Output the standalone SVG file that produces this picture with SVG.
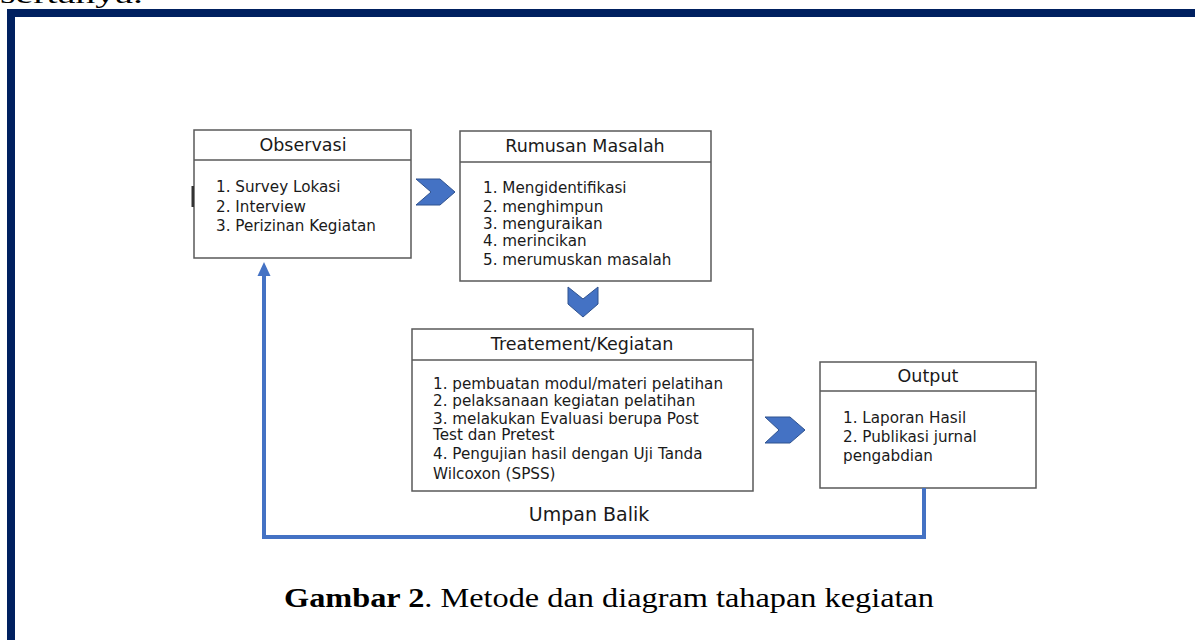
<svg xmlns="http://www.w3.org/2000/svg" width="1195" height="640" viewBox="0 0 1195 640">
<style>
.box{fill:#fff;stroke:#595959;stroke-width:1.5}
.hdr{stroke:#595959;stroke-width:1.5}
.t{font-family:"DejaVu Sans",Verdana,sans-serif;font-size:15.2px;fill:#1a1a1a}
.title{font-family:"DejaVu Sans",Verdana,sans-serif;font-size:17.5px;fill:#1a1a1a;text-anchor:middle}
.chev{fill:#4472C4;stroke:#2F528F;stroke-width:1}
.fb{fill:none;stroke:#4472C4;stroke-width:4}
</style>
<rect width="1195" height="640" fill="#fff"/>
<text x="0" y="3" font-family="Liberation Serif,serif" font-size="26" fill="#000" textLength="143" lengthAdjust="spacingAndGlyphs">sertanya.</text>
<g id="frame">
<rect x="7" y="9" width="1188" height="8" fill="#002060"/>
<rect x="7" y="9" width="8" height="631" fill="#002060"/>
</g>
<g id="observasi">
<rect class="box" x="194" y="130" width="217" height="128"/>
<line class="hdr" x1="194" y1="160" x2="411" y2="160"/>
<rect x="191.5" y="186" width="2.5" height="21" fill="#333"/>
<text class="title" x="303" y="151">Observasi</text>
<text class="t" x="216" y="192">1. Survey Lokasi</text>
<text class="t" x="216" y="212">2. Interview</text>
<text class="t" x="216" y="231">3. Perizinan Kegiatan</text>
</g>
<g id="rumusan">
<rect class="box" x="460" y="131" width="251" height="150"/>
<line class="hdr" x1="460" y1="162" x2="711" y2="162"/>
<text class="title" x="585" y="152">Rumusan Masalah</text>
<text class="t" x="483" y="193">1. Mengidentifikasi</text>
<text class="t" x="483" y="212">2. menghimpun</text>
<text class="t" x="483" y="229">3. menguraikan</text>
<text class="t" x="483" y="246">4. merincikan</text>
<text class="t" x="483" y="265">5. merumuskan masalah</text>
</g>
<g id="treatement">
<rect class="box" x="412" y="329" width="341" height="162"/>
<line class="hdr" x1="412" y1="360" x2="753" y2="360"/>
<text class="title" x="582" y="350">Treatement/Kegiatan</text>
<text class="t" x="433" y="389">1. pembuatan modul/materi pelatihan</text>
<text class="t" x="433" y="406">2. pelaksanaan kegiatan pelatihan</text>
<text class="t" x="433" y="424">3. melakukan Evaluasi berupa Post</text>
<text class="t" x="433" y="440">Test dan Pretest</text>
<text class="t" x="433" y="459">4. Pengujian hasil dengan Uji Tanda</text>
<text class="t" x="433" y="479">Wilcoxon (SPSS)</text>
</g>
<g id="output">
<rect class="box" x="820" y="362" width="216" height="126"/>
<line class="hdr" x1="820" y1="391" x2="1036" y2="391"/>
<text class="title" x="928" y="382">Output</text>
<text class="t" x="843" y="423">1. Laporan Hasil</text>
<text class="t" x="843" y="442">2. Publikasi jurnal</text>
<text class="t" x="843" y="461">pengabdian</text>
</g>
<g id="connectors">
<polygon class="chev" points="416,179 440,179 455,192 440,205 416,205 431,192"/>
<polygon class="chev" points="568,287 583,299 598,287 598,304 583,317 568,304"/>
<polygon class="chev" points="765,417 790,417 805,430 790,443 765,443 779,430"/>
<polyline class="fb" points="924,488 924,537 264,537 264,274"/>
<polygon points="264,262 257.5,276 270.5,276" fill="#4472C4"/>
<text x="589" y="521" text-anchor="middle" font-family="DejaVu Sans,Verdana,sans-serif" font-size="19" fill="#1a1a1a">Umpan Balik</text>
</g>
<text x="284" y="607" font-family="Liberation Serif,serif" font-size="28" fill="#000" textLength="650" lengthAdjust="spacingAndGlyphs"><tspan font-weight="bold">Gambar 2</tspan>. Metode dan diagram tahapan kegiatan</text>
</svg>
